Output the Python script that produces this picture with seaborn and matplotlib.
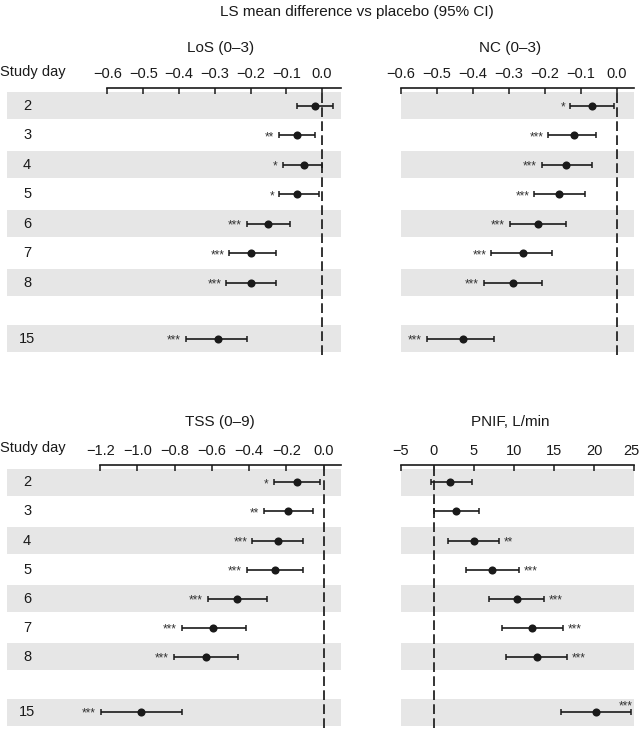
import numpy as np
import matplotlib
matplotlib.use('Agg')
import matplotlib.pyplot as plt
import matplotlib.transforms as mtransforms
import seaborn as sns

# data
days = ['2', '3', '4', '5', '6', '7', '8', '15']

los_est = [-0.020, -0.070, -0.050, -0.070, -0.151, -0.199, -0.199, -0.290]
los_lo = [-0.071, -0.121, -0.110, -0.121, -0.211, -0.260, -0.268, -0.381]
los_hi = [0.032, -0.020, 0.000, -0.008, -0.089, -0.130, -0.130, -0.209]
los_sig = ['', '**', '*', '*', '***', '***', '***', '***']

nc_est = [-0.069, -0.118, -0.140, -0.160, -0.220, -0.260, -0.289, -0.428]
nc_lo = [-0.130, -0.190, -0.209, -0.230, -0.298, -0.349, -0.370, -0.529]
nc_hi = [-0.009, -0.059, -0.068, -0.088, -0.140, -0.180, -0.208, -0.340]
nc_sig = ['*', '***', '***', '***', '***', '***', '***', '***']

tss_est = [-0.144, -0.194, -0.243, -0.262, -0.463, -0.593, -0.632, -0.983]
tss_lo = [-0.269, -0.320, -0.383, -0.413, -0.622, -0.763, -0.805, -1.196]
tss_hi = [-0.020, -0.059, -0.110, -0.110, -0.302, -0.419, -0.460, -0.763]
tss_sig = ['*', '**', '***', '***', '***', '***', '***', '***']

pnif_est = [2.08, 2.79, 5.00, 7.29, 10.38, 12.29, 12.83, 20.29]
pnif_lo = [-0.50, 0.00, 1.83, 4.04, 6.83, 8.46, 9.04, 15.92]
pnif_hi = [4.71, 5.63, 8.17, 10.58, 13.79, 16.08, 16.58, 24.67]
pnif_sig = ['', '', '**', '***', '***', '***', '***', '***']

sns.set_theme(style='white')
plt.rcParams['font.family'] = ['Liberation Sans', 'DejaVu Sans']
plt.rcParams['axes.unicode_minus'] = True

ink = '#1a1a1a'
band = '#e6e6e6'
fs = 10.5
star_fs = 8.5

# rows, with a gap before day 15
ypos = np.arange(len(days), dtype=float)
ypos[-1] += 0.9

fig = plt.figure(figsize=(6.4, 7.29), dpi=100)


def panel(rect, title, est, lo, hi, sig, xlim, ticks, ticklabels, spine_lo,
          title_x, title_dy, left=True, stars_right=False, scale=None):
    ax = fig.add_axes(rect)
    if scale is not None:
        ax.set_xscale('function', functions=scale)
    ax.set_xlim(*xlim)
    ax.set_ylim(8.45, -0.6)

    for i in range(0, len(days), 2):
        ax.axhspan(ypos[i] - 0.465, ypos[i] + 0.465, color=band, lw=0, zorder=0)
    ax.axhspan(ypos[-1] - 0.465, ypos[-1] + 0.465, color=band, lw=0, zorder=0)

    ax.axvline(0, color='#333333', lw=1.4, dashes=(5, 2.2), zorder=1)

    est = np.array(est)
    lo = np.array(lo)
    hi = np.array(hi)
    ax.errorbar(est, ypos, xerr=[est - lo, hi - est], fmt='none', ecolor=ink,
                elinewidth=1.2, capsize=2.4, capthick=1.1, zorder=2)
    sns.scatterplot(x=est, y=ypos, ax=ax, color=ink, s=34, edgecolor=ink,
                    linewidth=0, zorder=3, legend=False)

    for i, s in enumerate(sig):
        if not s:
            continue
        if stars_right:
            if i == len(days) - 1:
                ax.annotate(s, (hi[i], ypos[i]), xytext=(1, 4),
                            textcoords='offset points', ha='right', va='center',
                            fontsize=star_fs, color='#333333')
            else:
                ax.annotate(s, (hi[i], ypos[i]), xytext=(3.5, -1.3),
                            textcoords='offset points', ha='left', va='center',
                            fontsize=star_fs, color='#333333')
        else:
            ax.annotate(s, (lo[i], ypos[i]), xytext=(-3.5, -1.3),
                        textcoords='offset points', ha='right', va='center',
                        fontsize=star_fs, color='#333333')

    if left:
        for i, d in enumerate(days):
            ax.text(0.06, ypos[i], d, transform=ax.get_yaxis_transform(),
                    ha='center', va='center', fontsize=fs, color=ink)

    ax.xaxis.tick_top()
    ax.set_xticks(ticks)
    ax.set_xticklabels(ticklabels)
    ax.tick_params(axis='x', direction='in', length=4, width=1.1, color=ink,
                   labelsize=fs, labelcolor=ink, pad=5, top=True, bottom=False)
    ax.set_yticks([])
    for side in ['left', 'right', 'bottom']:
        ax.spines[side].set_visible(False)
    ax.spines['top'].set_color(ink)
    ax.spines['top'].set_linewidth(1.2)
    ax.spines['top'].set_bounds(spine_lo, xlim[1])
    ax.set_xlabel('')
    ax.set_ylabel('')

    ax.annotate(title, (title_x, 1), xycoords='axes fraction', xytext=(0, title_dy),
                textcoords='offset points', ha='center', va='center',
                fontsize=fs + 0.5, color=ink)
    return ax


def fwd(x):
    x = np.asarray(x, dtype=float)
    return np.where(x < 0, x * 0.82, x)


def inv(x):
    x = np.asarray(x, dtype=float)
    return np.where(x < 0, x / 0.82, x)


t06 = [-0.6, -0.5, -0.4, -0.3, -0.2, -0.1, 0.0]
l06 = ['\u22120.6', '\u22120.5', '\u22120.4', '\u22120.3', '\u22120.2', '\u22120.1', '0.0']
t12 = [-1.2, -1.0, -0.8, -0.6, -0.4, -0.2, 0.0]
l12 = ['\u22121.2', '\u22121.0', '\u22120.8', '\u22120.6', '\u22120.4', '\u22120.2', '0.0']
tp = [-5, 0, 5, 10, 15, 20, 25]
lp = ['\u22125', '0', '5', '10', '15', '20', '25']

top_b, top_h = 1 - 355 / 729, (355 - 88) / 729
bot_b, bot_h = 1 - 728 / 729, (728 - 465) / 729
lx, lw_ = 7 / 640, 334 / 640
rx, rw = 401 / 640, 233 / 640

panel([lx, top_b, lw_, top_h], 'LoS (0\u20133)', los_est, los_lo, los_hi, los_sig,
      (-0.881, 0.053), t06, l06, -0.6, 0.638, 28.5)
panel([rx, top_b, rw, top_h], 'NC (0\u20133)', nc_est, nc_lo, nc_hi, nc_sig,
      (-0.6, 0.048), t06, l06, -0.6, 0.468, 28.5, left=False)
panel([lx, bot_b, lw_, bot_h], 'TSS (0\u20139)', tss_est, tss_lo, tss_hi, tss_sig,
      (-1.70, 0.093), t12, l12, -1.2, 0.638, 31)
ax_p = panel([rx, bot_b, rw, bot_h], 'PNIF, L/min', pnif_est, pnif_lo, pnif_hi, pnif_sig,
             (-5, 25), tp, lp, -5, 0.468, 31, left=False, stars_right=True,
             scale=(fwd, inv))

# last tick label sits against the right edge of the figure
last = ax_p.get_xticklabels()[-1]
last.set_ha('right')
last.set_transform(last.get_transform() +
                   mtransforms.ScaledTranslation(5 / 100, 0, fig.dpi_scale_trans))

fig.text(357 / 640, 1 - 12 / 729, 'LS mean difference vs placebo (95% CI)',
         ha='center', va='center', fontsize=fs + 0.5, color=ink)
fig.text(0.0, 1 - 72 / 729, 'Study day', ha='left', va='center', fontsize=fs, color=ink)
fig.text(0.0, 1 - 448 / 729, 'Study day', ha='left', va='center', fontsize=fs, color=ink)

fig.savefig('out.png', dpi=100)
